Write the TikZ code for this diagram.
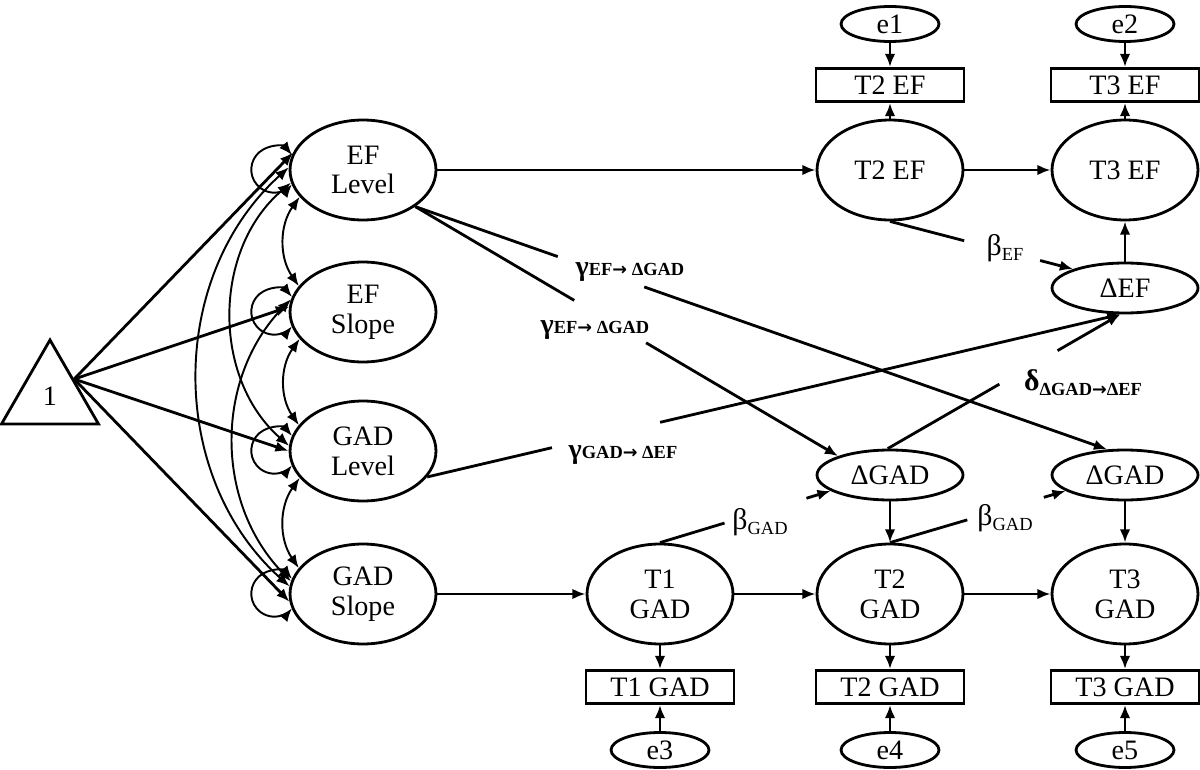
\documentclass[tikz,border=0pt]{standalone}
\usepackage{fontspec}
\setmainfont{Liberation Serif}
\newfontfamily\arrowfont{DejaVu Sans}
\usepackage{tikz}
\usetikzlibrary{shapes.geometric,calc,arrows.meta}
\newcommand{\gpath}[4]{%
  \draw (#1) -- ($(#1)!#3!(#2)$);
  \draw[->] ($(#1)!#4!(#2)$) -- (#2);}
\newcommand{\ar}{{\arrowfont\bfseries\fontsize{10}{10}\selectfont →}}
\newcommand{\glab}[2]{\textbf{\fontsize{16}{16}\selectfont #1\fontsize{10.5}{10}\selectfont #2}}
\newcommand{\blab}[2]{{\fontsize{17}{17}\selectfont #1\raisebox{-3pt}{\fontsize{10.5}{10}\selectfont #2}}}
\newcommand{\dlab}[2]{\textbf{\fontsize{17}{17}\selectfont #1\raisebox{-3pt}{\fontsize{10.5}{10}\selectfont #2}}}

\begin{document}
\begin{tikzpicture}[x=0.02cm, y=-0.02cm, >={Latex[length=7.5pt,width=6pt]}, line width=1.6pt,
    font=\fontsize{16}{17}\selectfont,
    lat/.style={draw, ellipse, minimum width=2.92cm, minimum height=2cm, inner sep=0pt, align=center},
    chg/.style={draw, ellipse, minimum width=2.92cm, minimum height=1cm, inner sep=0pt},
    err/.style={draw, ellipse, minimum width=1.96cm, minimum height=0.7cm, inner sep=0pt},
    obs/.style={draw, minimum width=2.96cm, minimum height=0.66cm, inner sep=0pt},
    tri/.style={draw, regular polygon, regular polygon sides=3, minimum size=2.24cm, inner sep=0pt},
    cov/.style={<->, line width=1.1pt}]
\useasboundingbox (0,0) rectangle (1200,770);

% growth factors
\node[tri] (one) at (50,396) {\raisebox{-4pt}{1}};
\node[lat] (EFL) at (363,170) {EF\\Level};
\node[lat] (EFS) at (363,312) {EF\\Slope};
\node[lat] (GADL) at (363,451) {GAD\\Level};
\node[lat] (GADS) at (363,594) {GAD\\Slope};

% EF waves
\node[lat] (EF2) at (890,170) {T2 EF};
\node[lat] (EF3) at (1125,170) {T3 EF};
\node[obs] (oEF2) at (890,85) {T2 EF};
\node[obs] (oEF3) at (1125,85) {T3 EF};
\node[err] (e1) at (890,24) {e1};
\node[err] (e2) at (1125,24) {e2};
\node[chg] (dEF) at (1125,288) {ΔEF};

% GAD waves
\node[lat] (GAD1) at (660,594) {T1\\GAD};
\node[lat] (GAD2) at (890,594) {T2\\GAD};
\node[lat] (GAD3) at (1125,594) {T3\\GAD};
\node[chg] (dGAD2) at (890,475) {ΔGAD};
\node[chg] (dGAD3) at (1125,475) {ΔGAD};
\node[obs] (oGAD1) at (660,687) {T1 GAD};
\node[obs] (oGAD2) at (890,687) {T2 GAD};
\node[obs] (oGAD3) at (1125,687) {T3 GAD};
\node[err] (e3) at (660,750) {e3};
\node[err] (e4) at (890,750) {e4};
\node[err] (e5) at (1125,750) {e5};

% means, variances, covariances
\foreach \n/\a in {EFL/166, EFS/176, GADL/180, GADS/186}
  \draw[->] (one.35) -- (\n.\a);
\foreach \n in {EFL, EFS, GADL, GADS}
  \draw[cov] (\n.168) arc[start angle=40, end angle=320, radius=0.46cm];
\draw[cov] (EFL.203) to[bend right=35] (EFS.158);
\draw[cov] (EFS.203) to[bend right=35] (GADL.158);
\draw[cov] (GADL.203) to[bend right=35] (GADS.158);
\draw[cov] (EFL.178) to[bend right=48] (GADS.174);
\draw[cov] (EFL.190) to[bend right=49] (GADL.176);
\draw[cov] (EFS.170) to[bend right=44] (GADS.170);

% paths
\draw[->] (EFL) -- (EF2);
\draw[->] (EF2) -- (EF3);
\draw[->] (EF2) -- (oEF2);
\draw[->] (EF3) -- (oEF3);
\draw[->] (e1) -- (oEF2);
\draw[->] (e2) -- (oEF3);
\draw[->] (dEF) -- (EF3);
\draw[->] (GADS) -- (GAD1);
\draw[->] (GAD1) -- (GAD2);
\draw[->] (GAD2) -- (GAD3);
\draw[->] (dGAD2) -- (GAD2);
\draw[->] (dGAD3) -- (GAD3);
\draw[->] (GAD1) -- (oGAD1);
\draw[->] (GAD2) -- (oGAD2);
\draw[->] (GAD3) -- (oGAD3);
\draw[->] (e3) -- (oGAD1);
\draw[->] (e4) -- (oGAD2);
\draw[->] (e5) -- (oGAD3);

\gpath{EF2.south}{dEF.160}{.405}{.82}
\gpath{EFL.-35}{dGAD3.125}{.206}{.331}
\gpath{EFL.-35}{dGAD2.160}{.376}{.546}
\gpath{GADL.-22}{dEF.260}{.18}{.336}
\gpath{dGAD2.95}{dEF.260}{.48}{.73}
\gpath{GAD1.north}{dGAD2.195}{.378}{.858}
\gpath{GAD2.north}{dGAD3.195}{.44}{.876}

% coefficients
\node (gEF3) at (630,272) {\glab{γ}{EF\ar\ ΔGAD}};
\node (gEF2) at (595,330) {\glab{γ}{EF\ar\ ΔGAD}};
\node (gGAD) at (623,455) {\glab{γ}{GAD\ar\ ΔEF}};
\node (bEF) at (1005,248) {\blab{β}{EF}};
\node (dGE) at (1083,383) {\dlab{δ}{ΔGAD\ar ΔEF}};
\node (bGAD2) at (760,522) {\blab{β}{GAD}};
\node (bGAD3) at (1005,518) {\blab{β}{GAD}};
\end{tikzpicture}
\end{document}
